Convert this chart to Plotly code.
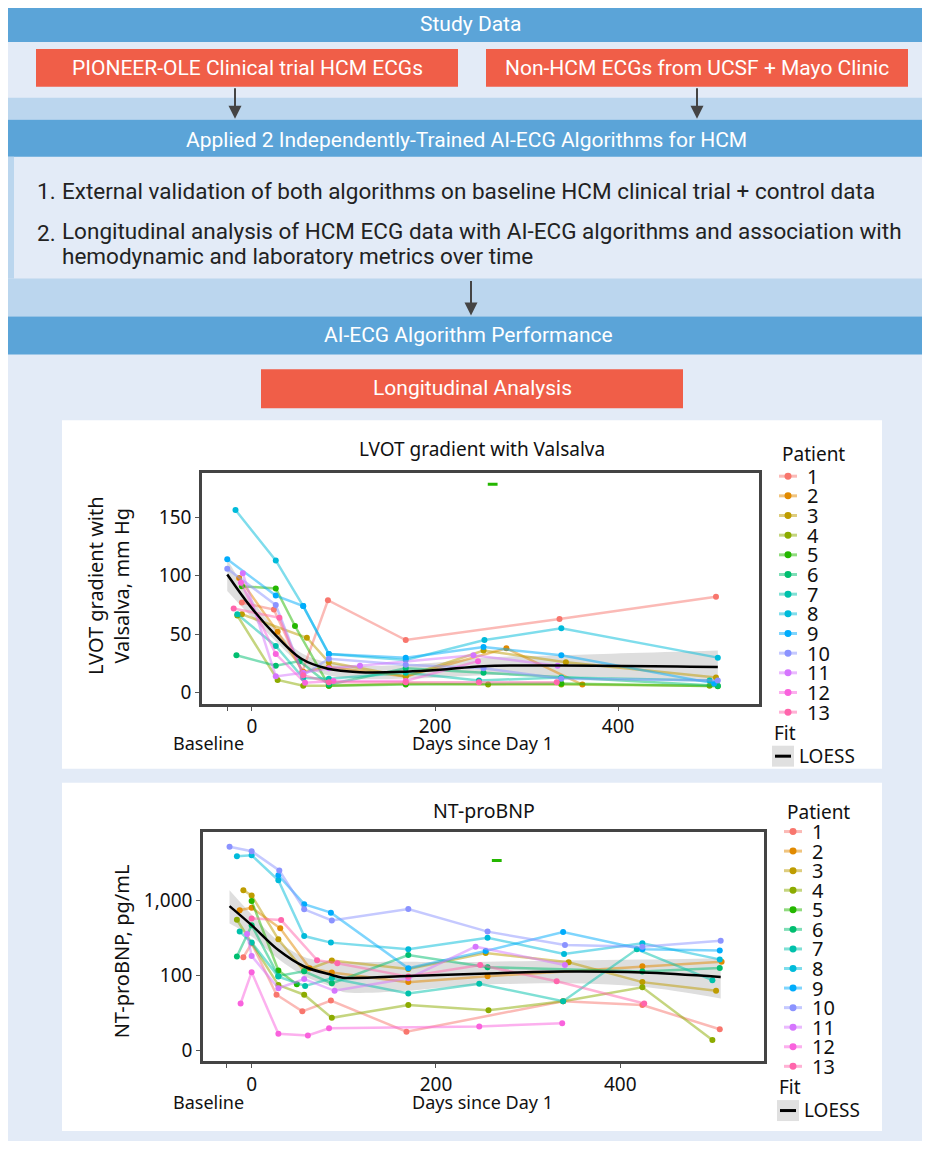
import plotly.graph_objects as go

# page body has an 8px margin; the figure is sized so that it fits the 930x1149 window without scrolling
OFF = 8
W, H = 930 - OFF, 1149 - 2 * OFF

# ---------------- DATA ----------------
patients = [str(i) for i in range(1, 14)]
colors = ["#F8766D", "#E18A00", "#BE9C00", "#8CAB00", "#24B700", "#00BE70", "#00C1AB",
          "#00BBDA", "#00ACFC", "#8B93FF", "#D575FE", "#F962DD", "#FF65AC"]

# LVOT gradient with Valsalva (mm Hg)
lvot_days = [
    [-11, 24, 55, 83, 168, 336, 507],
    [-14, 28, 56, 84, 168, 278, 361],
    [-11, 60, 84, 168, 253, 343, 507],
    [-16, 28, 56, 84, 168, 258, 338, 500],
    [-11, 26, 47, 84, 168, 338, 509],
    [-17, 26, 52, 84, 168, 253, 509],
    [-16, 26, 56, 84, 168, 248, 338, 500],
    [-18, 26, 56, 84, 168, 254, 338, 509],
    [-27, 26, 56, 84, 168, 253, 338, 505],
    [-27, 26, 56, 84, 168, 253, 338, 509],
    [-10, 26, 56, 84, 118, 242, 334],
    [-12, 26, 58, 89, 168, 247],
    [-20, 30, 56, 84, 168, 248, 333],
]
lvot_vals = [
    [77, 71, 18, 79, 45, 63, 82],
    [98, 52, 18, 22, 14, 38, 7],
    [67, 47, 26, 14, 36, 26, 13],
    [66, 11, 6, 6, 8, 7, 7, 6],
    [91, 89, 57, 6, 7, 8, 5.5],
    [32, 23, 27, 7, 21, 17, 6],
    [67, 40, 12.5, 12, 17, 10.5, 13, 10.5],
    [156, 113, 74, 33, 28, 45, 55, 30],
    [114, 83, 74, 33, 30, 39, 32, 8],
    [106, 75, 15, 29, 24, 21, 12, 10.5],
    [102, 14, 17, 21, 23, 32, 23],
    [94, 33, 8.5, 10, 10, 27],
    [72, 64, 15, 9, 9, 9, 9],
]
lvot_outlier_day = [263]
lvot_outlier_val = [178]

lvot_fit_days = [-27, -2, 26, 54, 83, 118, 168, 205, 253, 337, 509]
lvot_fit = [101, 74, 49, 29, 20.5, 17.6, 18, 19.6, 22.7, 23.3, 22]
lvot_fit_lo = [87, 66, 44, 24, 15, 12, 12, 13, 15, 14, 9]
lvot_fit_hi = [114, 82, 54, 34, 26, 23, 24, 26, 30, 32, 36]

# NT-proBNP (pg/mL)
bnp_days = [
    [-9, 0, 27, 55, 86, 168, 338, 424, 508],
    [-13, 0, 31, 63, 87, 170, 256, 424, 510],
    [-9, 0, 29, 57, 87, 170, 254, 344, 424, 504],
    [-16, 29, 57, 87, 170, 257, 338, 424, 500],
    [0, 29, 49],
    [-16, 0, 29, 57, 87, 170, 256, 424, 508],
    [-13, 0, 29, 58, 87, 170, 247, 338, 418, 500],
    [-16, 0, 29, 57, 86, 170, 256, 339, 424, 508],
    [29, 57, 86, 170, 254, 338, 424, 508],
    [-24, 0, 30, 57, 87, 170, 256, 340, 424, 509],
    [-5, 0, 29, 57, 90, 170, 243, 340],
    [-12, 0, 29, 61, 84, 247, 337],
    [0, 32, 71, 93, 170, 248, 331, 426],
]
bnp_vals = [
    [174, 267, 55, 33, 46, 17.6, 45, 40, 19],
    [741, 800, 424, 124, 109, 81, 97, 132, 152],
    [1370, 1166, 302, 114, 157, 121, 198, 149, 81, 62],
    [551, 74, 55, 27, 40, 34, 45, 69, 13.7],
    [980, 116, 76],
    [178, 467, 98, 113, 78, 186, 128, 112, 125],
    [383, 273, 96, 72, 91, 57, 77, 45, 222, 86],
    [3890, 4000, 1860, 334, 273, 222, 318, 192, 267, 163],
    [2170, 890, 686, 124, 211, 378, 222, 215],
    [5200, 4540, 2512, 760, 540, 766, 383, 253, 241, 289],
    [355, 181, 67, 89, 62, 91, 241, 137],
    [42, 110, 16.5, 15.7, 19.6, 20.7, 22.9],
    [575, 546, 159, 145, 96, 137, 83, 42],
]
bnp_outlier_day = [266]
bnp_outlier_val = [3400]

bnp_fit_days = [-24, 0, 29, 57, 87, 99, 170, 204, 256, 340, 424, 509]
bnp_fit = [840, 467, 217, 131, 101, 93, 98, 101, 106, 112, 109, 95]
bnp_fit_lo = [493, 330, 165, 98, 70, 60, 62, 68, 75, 78, 70, 49]
bnp_fit_hi = [1370, 650, 285, 175, 150, 150, 152, 150, 152, 158, 162, 169]

lvot_ticks = [0, 50, 100, 150]
bnp_tickvals = [10, 100, 1000]
bnp_ticktext = ["0", "100", "1,000"]
x_tickvals = [-27, 0, 200, 400]
x_ticktext = ["", "0", "200", "400"]

# ---------------- STYLE / LAYOUT HELPERS ----------------
BG = "#E3EBF7"
BAND = "#BBD6EE"
BLUE = "#5BA4D8"
RED = "#F05E48"
HFONT = "Roboto"
CFONT = "Noto Sans"


def X(px):
    return (px - OFF) / W


def Y(py):
    return 1 - (py - OFF) / H


def rgba(hexc, a):
    h = hexc.lstrip("#")
    r, g, b = int(h[0:2], 16), int(h[2:4], 16), int(h[4:6], 16)
    return f"rgba({r},{g},{b},{a})"


shapes = []
annotations = []


def rect(x0, y0, x1, y1, fill, layer="below"):
    shapes.append(dict(type="rect", xref="paper", yref="paper", x0=X(x0), x1=X(x1),
                       y0=Y(y1), y1=Y(y0), fillcolor=fill, line=dict(width=0), layer=layer))


def text(x, y, s, size, color="#222", xanchor="center", font=HFONT):
    annotations.append(dict(x=X(x), y=Y(y), xref="paper", yref="paper", text=s, showarrow=False,
                            xanchor=xanchor, yanchor="middle",
                            font=dict(family=font, size=size, color=color)))


def arrow(x, y0, y1):
    annotations.append(dict(x=X(x), y=Y(y1), xref="paper", yref="paper", ax=0, ay=-(y1 - y0),
                            axref="pixel", ayref="pixel", text="", showarrow=True,
                            arrowhead=2, arrowsize=1.3, arrowwidth=2, arrowcolor="#444"))


# background blocks
rect(0, 0, 930, 1149, BG)
rect(0, 0, 930, 42, BLUE)
rect(36, 49, 458, 87, RED)
rect(486, 49, 908, 87, RED)
rect(0, 98, 930, 120, BAND)
rect(0, 120, 930, 157, BLUE)
rect(0, 157, 14, 279, BAND)
rect(0, 279, 930, 317, BAND)
rect(0, 317, 930, 355, BLUE)
rect(261, 370, 683, 409, RED)
rect(62, 421, 882, 770, "white")
rect(62, 784, 882, 1133, "white")

text(470, 24, "Study Data", 21, "white")
text(247, 68, "PIONEER-OLE Clinical trial HCM ECGs", 21, "white")
text(697, 68, "Non-HCM ECGs from UCSF + Mayo Clinic", 21, "white")
text(466, 140, "Applied 2 Independently-Trained AI-ECG Algorithms for HCM", 21, "white")
text(468, 336, "AI-ECG Algorithm Performance", 21, "white")
text(472, 389, "Longitudinal Analysis", 21, "white")
text(35, 191, "1.", 22.5, xanchor="left")
text(60, 191, "External validation of both algorithms on baseline HCM clinical trial + control data", 22.5, xanchor="left")
text(35, 233, "2.", 22.5, xanchor="left")
text(60, 231, "Longitudinal analysis of HCM ECG data with AI-ECG algorithms and association with", 22.5, xanchor="left")
text(60, 256, "hemodynamic and laboratory metrics over time", 22.5, xanchor="left")
arrow(235, 87, 119)
arrow(697, 87, 119)
arrow(471, 280, 316)

# chart titles / labels
text(482, 450, "LVOT gradient with Valsalva", 19, "#111", font=CFONT)
text(484, 812, "NT-proBNP", 19.5, "#111", font=CFONT)
annotations.append(dict(x=X(109), y=Y(587), xref="paper", yref="paper", showarrow=False,
                        xanchor="center", yanchor="middle",
                        text="LVOT gradient with<br>Valsalva, mm Hg", textangle=-90,
                        font=dict(family=CFONT, size=20, color="#111")))
annotations.append(dict(x=X(121), y=Y(953), xref="paper", yref="paper", showarrow=False,
                        xanchor="center", yanchor="middle",
                        text="NT-proBNP, pg/mL", textangle=-90,
                        font=dict(family=CFONT, size=20, color="#111")))
for yb in (744, 1104):
    text(208, yb, "Baseline", 18, "#111", font=CFONT)
    text(482, yb, "Days since Day 1", 18, "#111", font=CFONT)


# legends (drawn as layout decorations)
def legend(top_title_y, first_y, step, key_x, num_x, title_x, fit_y, box, loess_x, loess_y):
    text(title_x, top_title_y, "Patient", 19, "#111", xanchor="left", font=CFONT)
    for i, (p, c) in enumerate(zip(patients, colors)):
        yy = first_y + i * step
        shapes.append(dict(type="line", xref="paper", yref="paper", x0=X(key_x - 9), x1=X(key_x + 9),
                           y0=Y(yy), y1=Y(yy), line=dict(color=rgba(c, 0.5), width=3)))
        shapes.append(dict(type="circle", xref="paper", yref="paper", x0=X(key_x - 3.5), x1=X(key_x + 3.5),
                           y0=Y(yy + 3.5), y1=Y(yy - 3.5), fillcolor=c, line=dict(width=0)))
        text(num_x, yy, p, 20, "#111", xanchor="left", font=CFONT)
    text(title_x - 8, fit_y, "Fit", 19, "#111", xanchor="left", font=CFONT)
    bx0, by0, bx1, by1 = box
    rect(bx0, by0, bx1, by1, "#E0E0E0", layer="above")
    shapes.append(dict(type="line", xref="paper", yref="paper", x0=X(bx0 + 3), x1=X(bx1 - 3),
                       y0=Y((by0 + by1) / 2), y1=Y((by0 + by1) / 2), line=dict(color="black", width=3)))
    text(loess_x, loess_y, "LOESS", 19, "#111", xanchor="left", font=CFONT)


legend(455, 477, 19.7, 788, 805, 780, 734, (772, 747, 794, 768), 797, 757)
legend(813, 833, 19.6, 793, 810, 785, 1089, (777, 1102, 799, 1123), 802, 1112)

# ---------------- FIGURE ----------------
fig = go.Figure()


def add_panel(days, vals, fd, fv, flo, fhi, od, ov, xa, ya):
    fig.add_trace(go.Scatter(x=fd, y=flo, mode="lines", line=dict(width=0, shape="spline"),
                             hoverinfo="skip", showlegend=False, xaxis=xa, yaxis=ya))
    fig.add_trace(go.Scatter(x=fd, y=fhi, mode="lines", line=dict(width=0, shape="spline"),
                             fill="tonexty", fillcolor="rgba(160,160,160,0.35)", hoverinfo="skip",
                             showlegend=False, xaxis=xa, yaxis=ya))
    for p, c, d, v in zip(patients, colors, days, vals):
        fig.add_trace(go.Scatter(x=d, y=v, mode="lines+markers", name=p,
                                 line=dict(color=rgba(c, 0.5), width=2.5),
                                 marker=dict(color=c, size=6),
                                 showlegend=False, xaxis=xa, yaxis=ya))
    fig.add_trace(go.Scatter(x=fd, y=fv, mode="lines", line=dict(color="black", width=2.5, shape="spline"),
                             showlegend=False, xaxis=xa, yaxis=ya))
    fig.add_trace(go.Scatter(x=od, y=ov, mode="markers",
                             marker=dict(symbol="line-ew", size=7, line=dict(color=colors[4], width=3)),
                             showlegend=False, xaxis=xa, yaxis=ya))


add_panel(lvot_days, lvot_vals, lvot_fit_days, lvot_fit, lvot_fit_lo, lvot_fit_hi,
          lvot_outlier_day, lvot_outlier_val, "x", "y")
add_panel(bnp_days, bnp_vals, bnp_fit_days, bnp_fit, bnp_fit_lo, bnp_fit_hi,
          bnp_outlier_day, bnp_outlier_val, "x2", "y2")

axis_common = dict(showline=True, mirror=True, linecolor="#444", linewidth=2.5, showgrid=False,
                   zeroline=False, ticks="outside", ticklen=4, tickcolor="#555", tickwidth=1,
                   tickfont=dict(family=CFONT, size=19, color="#111"))

fig.update_layout(
    width=W, height=H, margin=dict(l=0, r=0, t=0, b=0),
    paper_bgcolor="white", plot_bgcolor="white", showlegend=False,
    shapes=shapes, annotations=annotations,
    xaxis=dict(domain=[X(202), X(759)], range=[-54.6, 554], anchor="y",
               tickvals=x_tickvals, ticktext=x_ticktext, **axis_common),
    yaxis=dict(domain=[Y(705), Y(474)], range=[-9.4, 187.5], anchor="x",
               tickvals=lvot_ticks, **axis_common),
    xaxis2=dict(domain=[X(203), X(764)], range=[-52.8, 556], anchor="y2",
                tickvals=x_tickvals, ticktext=x_ticktext, **axis_common),
    yaxis2=dict(domain=[Y(1063), Y(833)], type="log", range=[0.853, 3.92], anchor="x2",
                tickvals=bnp_tickvals, ticktext=bnp_ticktext, **axis_common),
)

fig.write_html("out.html")
